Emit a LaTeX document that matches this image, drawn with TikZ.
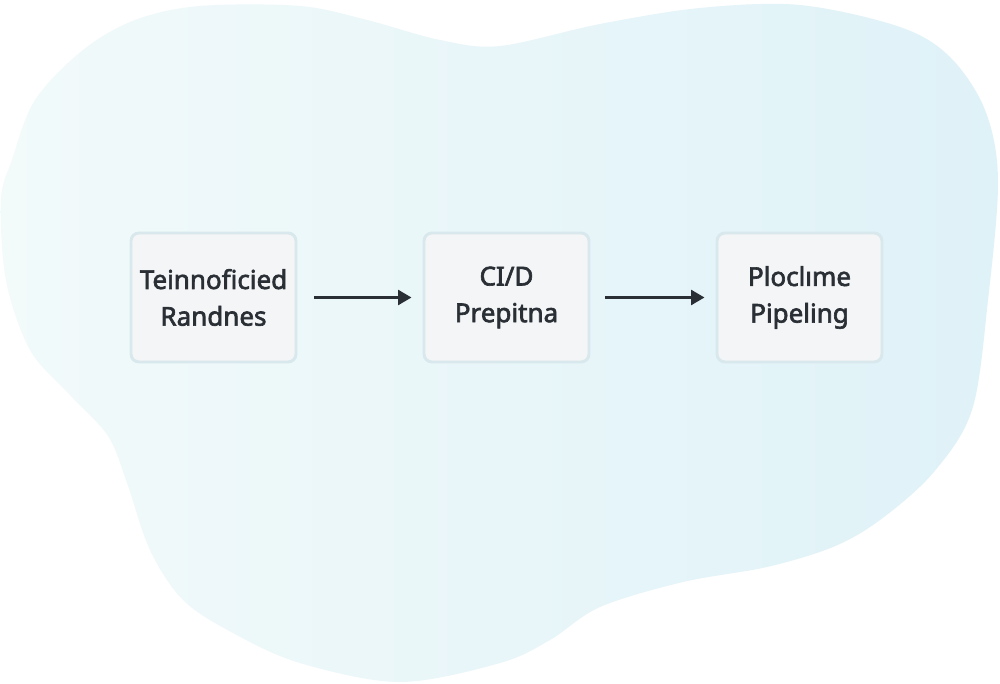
\documentclass[tikz,border=0pt]{standalone}
\usepackage{fontspec}
\setmainfont{Noto Sans}[FakeBold=2.4]
\usetikzlibrary{arrows.meta}
\definecolor{blobA}{HTML}{F2FAFA}
\definecolor{blobB}{HTML}{DFF2F8}
\definecolor{boxfill}{HTML}{F4F5F6}
\definecolor{boxline}{HTML}{D8E8EC}
\definecolor{ink}{HTML}{2A2F36}
\tikzset{
  stepbox/.style={draw=boxline, line width=2.2pt, fill=boxfill, rounded corners=6pt,
    minimum width=123.75pt, minimum height=96.75pt, align=center, text=ink,
    font=\fontsize{19.5}{27.5}\selectfont\bfseries},
  flow/.style={draw=ink, line width=2.2pt, -{Triangle[length=10pt,width=11pt]}}
}
\begin{document}
\begin{tikzpicture}[x=0.75pt,y=-0.75pt]
\useasboundingbox (0,0) rectangle (1000,684);
\fill[white] (0,0) rectangle (1000,684);
\shade[left color=blobA, right color=blobB]
  plot[smooth cycle, tension=0.55] coordinates {
    (1,200) (12,160) (35,100) (83,50) (135,20) (200,6) (300,6) (367,20)
    (440,40) (500,46) (600,24) (700,8) (800,5) (900,27) (950,57) (985,110)
    (998,180) (988,300) (972,410) (933,473) (880,520) (833,547) (767,567)
    (683,582) (600,607) (550,640) (500,663) (400,682) (300,663) (233,633)
    (183,600) (150,550) (127,483) (108,436) (70,395) (30,350) (6,280)};
\node[stepbox] (a) at (213.5,297.5) {Teinnoficied\\Randnes};
\node[stepbox] (b) at (506.5,297.5) {CI/D\\Prepitna};
\node[stepbox] (c) at (799.5,297.5) {Plocl\i me\\Pipeling};
\draw[flow] ([xshift=12.75pt]a.east) -- ([xshift=-8.25pt]b.west);
\draw[flow] ([xshift=11.25pt]b.east) -- ([xshift=-8.25pt]c.west);
\end{tikzpicture}
\end{document}
